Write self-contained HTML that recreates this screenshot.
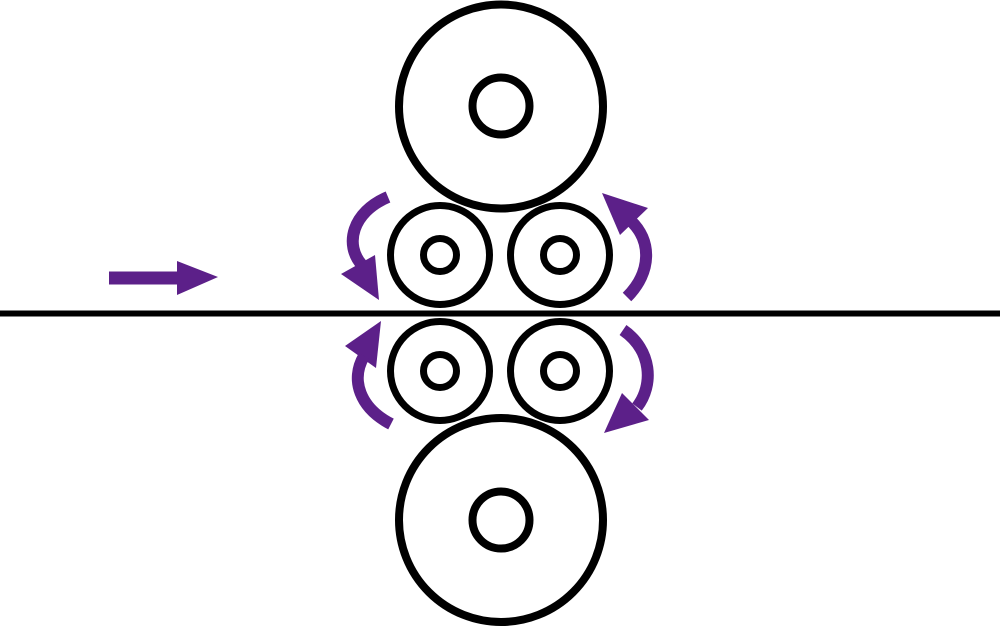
<!DOCTYPE html>
<html><head><meta charset="utf-8"><style>
html,body{margin:0;padding:0;background:#fff;width:1000px;height:627px;overflow:hidden}
svg{display:block}
</style></head><body>
<svg width="1000" height="627" viewBox="0 0 1000 627" xmlns="http://www.w3.org/2000/svg">
<g fill="none" stroke="#000" stroke-width="8">
<circle cx="501" cy="106.5" r="102"/>
<circle cx="501" cy="106" r="28.5"/>
<circle cx="501" cy="520" r="102"/>
<circle cx="501" cy="520" r="28.5"/>
<g stroke-width="7">
<circle cx="440" cy="255" r="49.5"/>
<circle cx="560" cy="255" r="49.5"/>
<circle cx="440" cy="371" r="49.5"/>
<circle cx="560" cy="371" r="49.5"/>
<circle cx="440" cy="255" r="16.5"/>
<circle cx="560" cy="255" r="16.5"/>
<circle cx="440" cy="371" r="16.5"/>
<circle cx="560" cy="371" r="16.5"/>
</g>
</g>
<rect x="0" y="310.5" width="1000" height="6" fill="#000"/>
<g fill="#5c2089">
<rect x="109" y="271.5" width="72" height="13"/>
<polygon points="177,261 218,277 177,295"/>
<polygon points="341,274 375,255 379,300"/>
<polygon points="620,235 648,208 602,193"/>
<polygon points="345,346 376,368 381,321"/>
<polygon points="649,420 622,393 604,433"/>
</g>
<g fill="none" stroke="#5c2089" stroke-width="12">
<path d="M 388 197 C 352 212, 344 245, 362 265"/>
<path d="M 627 297 C 652 272, 652 240, 630 220"/>
<path d="M 391 424 C 360 408, 350 380, 364 356"/>
<path d="M 623 330 C 652 350, 654 385, 637 407"/>
</g>
</svg>
</body></html>
